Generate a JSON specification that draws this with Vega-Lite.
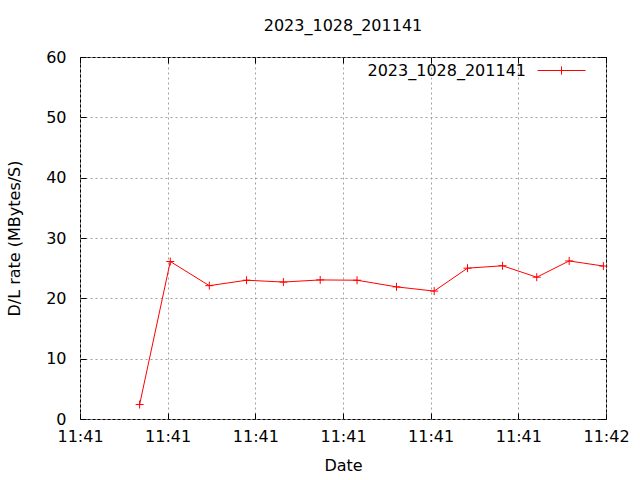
{
  "$schema": "https://vega.github.io/schema/vega-lite/v6.json",
  "width": 526,
  "height": 362,
  "autosize": {"type": "none"},
  "padding": {"left": 80, "top": 57, "right": 34, "bottom": 61},
  "background": "white",
  "title": {"text": "2023_1028_201141", "font": "DejaVu Sans", "fontSize": 16, "fontWeight": "normal", "color": "black", "offset": 12, "anchor": "middle"},
  "config": {
    "view": {"stroke": "black", "strokeWidth": 1},
    "font": "DejaVu Sans",
    "axis": {"labelFont": "DejaVu Sans", "titleFont": "DejaVu Sans", "labelFontSize": 16, "titleFontSize": 16, "titleFontWeight": "normal", "labelColor": "black", "titleColor": "black", "domain": false, "tickColor": "black", "tickSize": -6, "gridColor": "#a0a0a0", "gridDash": [2, 3], "gridOpacity": 1, "gridWidth": 1}
  },
  "data": {"values": [
    {"t": "2023-10-28T11:41:06.8Z", "rate": 2.4, "series": "2023_1028_201141"},
    {"t": "2023-10-28T11:41:10.3Z", "rate": 26.1, "series": "2023_1028_201141"},
    {"t": "2023-10-28T11:41:14.75Z", "rate": 22.1, "series": "2023_1028_201141"},
    {"t": "2023-10-28T11:41:19.0Z", "rate": 23.0, "series": "2023_1028_201141"},
    {"t": "2023-10-28T11:41:23.2Z", "rate": 22.7, "series": "2023_1028_201141"},
    {"t": "2023-10-28T11:41:27.4Z", "rate": 23.05, "series": "2023_1028_201141"},
    {"t": "2023-10-28T11:41:31.6Z", "rate": 23.0, "series": "2023_1028_201141"},
    {"t": "2023-10-28T11:41:36.1Z", "rate": 21.9, "series": "2023_1028_201141"},
    {"t": "2023-10-28T11:41:40.4Z", "rate": 21.2, "series": "2023_1028_201141"},
    {"t": "2023-10-28T11:41:44.2Z", "rate": 25.0, "series": "2023_1028_201141"},
    {"t": "2023-10-28T11:41:48.2Z", "rate": 25.4, "series": "2023_1028_201141"},
    {"t": "2023-10-28T11:41:52.1Z", "rate": 23.5, "series": "2023_1028_201141"},
    {"t": "2023-10-28T11:41:55.8Z", "rate": 26.2, "series": "2023_1028_201141"},
    {"t": "2023-10-28T11:41:59.7Z", "rate": 25.35, "series": "2023_1028_201141"}
  ]},
  "layer": [
    {
      "mark": {"type": "line", "strokeWidth": 1, "clip": true},
      "encoding": {
        "x": {"field": "t", "type": "temporal", "title": "Date",
              "scale": {"type": "utc", "domain": [{"year": 2023, "month": 10, "date": 28, "hours": 11, "minutes": 41, "seconds": 0, "utc": true}, {"year": 2023, "month": 10, "date": 28, "hours": 11, "minutes": 42, "seconds": 0, "utc": true}]},
              "axis": {"format": "%H:%M", "values": [
                {"year": 2023, "month": 10, "date": 28, "hours": 11, "minutes": 41, "seconds": 0, "utc": true},
                {"year": 2023, "month": 10, "date": 28, "hours": 11, "minutes": 41, "seconds": 10, "utc": true},
                {"year": 2023, "month": 10, "date": 28, "hours": 11, "minutes": 41, "seconds": 20, "utc": true},
                {"year": 2023, "month": 10, "date": 28, "hours": 11, "minutes": 41, "seconds": 30, "utc": true},
                {"year": 2023, "month": 10, "date": 28, "hours": 11, "minutes": 41, "seconds": 40, "utc": true},
                {"year": 2023, "month": 10, "date": 28, "hours": 11, "minutes": 41, "seconds": 50, "utc": true},
                {"year": 2023, "month": 10, "date": 28, "hours": 11, "minutes": 42, "seconds": 0, "utc": true}],
                "labelPadding": 15, "titlePadding": 13, "labelFlush": false, "labelOverlap": false}},
        "y": {"field": "rate", "type": "quantitative", "title": "D/L rate (MBytes/S)",
              "scale": {"domain": [0, 60], "nice": false, "zero": false},
              "axis": {"values": [0, 10, 20, 30, 40, 50, 60], "labelPadding": 20, "titlePadding": 23}},
        "color": {"field": "series", "type": "nominal", "scale": {"range": ["#ff0000"]},
                  "legend": {"title": null, "orient": "none", "legendX": 457, "legendY": -11, "padding": 0, "labelFontSize": 16, "labelFont": "DejaVu Sans", "labelColor": "black", "labelAlign": "right", "labelOffset": -60, "symbolType": "M-1,0H1M0,-0.17V0.17", "symbolSize": 2304, "symbolStrokeWidth": 1, "symbolFillColor": "transparent", "symbolStrokeColor": "#ff0000",
                             "encode": {"symbols": {"update": {"stroke": {"value": "#ff0000"}, "strokeWidth": {"value": 1}}}}}}
      }
    },
    {
      "mark": {"type": "point", "shape": "M-1,0H1M0,-1V1", "size": 64, "filled": false, "strokeWidth": 1, "color": "#ff0000", "opacity": 1},
      "encoding": {
        "x": {"field": "t", "type": "temporal", "axis": {"orient": "top", "labels": false, "grid": false, "title": null, "values": [
                {"year": 2023, "month": 10, "date": 28, "hours": 11, "minutes": 41, "seconds": 0, "utc": true},
                {"year": 2023, "month": 10, "date": 28, "hours": 11, "minutes": 41, "seconds": 10, "utc": true},
                {"year": 2023, "month": 10, "date": 28, "hours": 11, "minutes": 41, "seconds": 20, "utc": true},
                {"year": 2023, "month": 10, "date": 28, "hours": 11, "minutes": 41, "seconds": 30, "utc": true},
                {"year": 2023, "month": 10, "date": 28, "hours": 11, "minutes": 41, "seconds": 40, "utc": true},
                {"year": 2023, "month": 10, "date": 28, "hours": 11, "minutes": 41, "seconds": 50, "utc": true},
                {"year": 2023, "month": 10, "date": 28, "hours": 11, "minutes": 42, "seconds": 0, "utc": true}]}},
        "y": {"field": "rate", "type": "quantitative", "axis": {"orient": "right", "labels": false, "grid": false, "title": null, "values": [0, 10, 20, 30, 40, 50, 60]}}
      }
    }
  ],
  "resolve": {"axis": {"x": "independent", "y": "independent"}}
}
